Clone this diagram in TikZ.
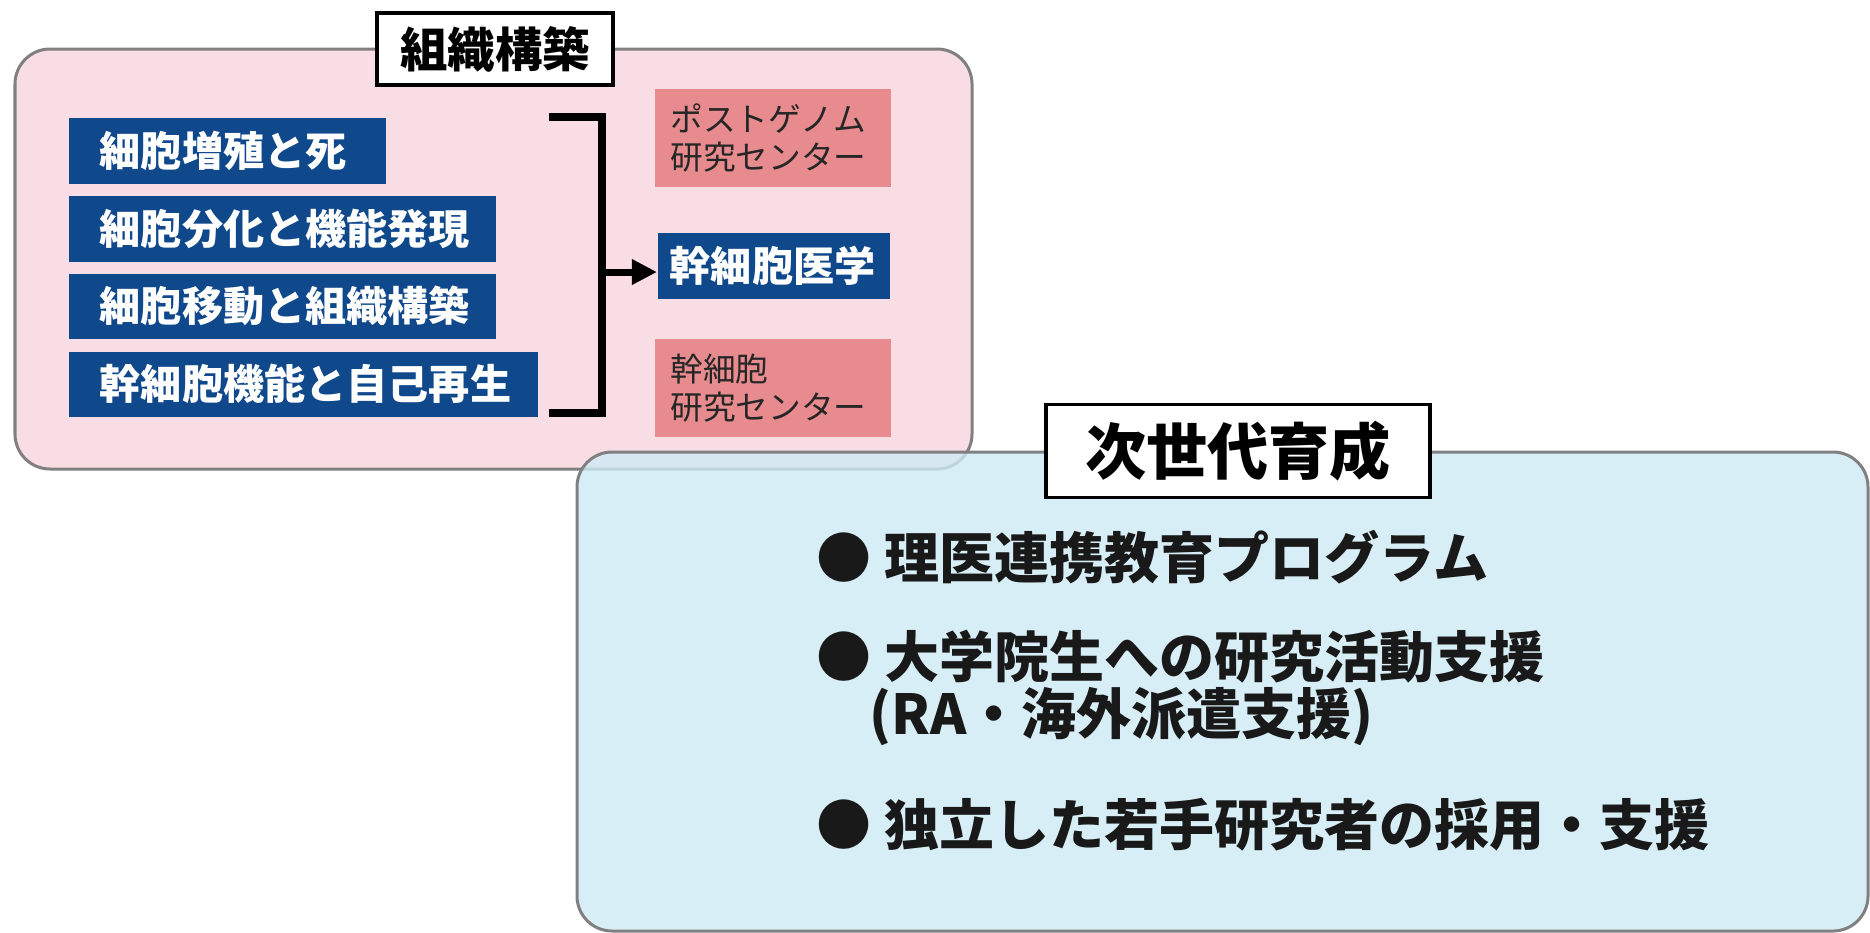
\documentclass[tikz,border=0pt]{standalone}
\usepackage{fontspec}
\setmainfont{Noto Sans CJK JP}
\usetikzlibrary{arrows.meta}

\definecolor{tissuepink}{RGB}{249,221,229}
\definecolor{nextblue}{RGB}{206,234,244}
\definecolor{cellblue}{RGB}{16,72,140}
\definecolor{centerpink}{RGB}{231,139,143}
\definecolor{panelgray}{RGB}{128,128,128}

\newcommand{\cellfont}{\fontsize{11.7pt}{13pt}\selectfont\bfseries}
\newcommand{\centerfont}{\fontsize{9.3pt}{10.7pt}\selectfont}
\newcommand{\headfontA}{\fontsize{13.5pt}{15pt}\selectfont\bfseries}
\newcommand{\headfontB}{\fontsize{17.4pt}{19pt}\selectfont\bfseries}
\newcommand{\jpitemfont}{\fontsize{15.65pt}{13.7pt}\selectfont\bfseries}

\tikzset{
	panel/.style={draw=panelgray, line width=0.03cm, rounded corners=0.35cm},
	headbox/.style={draw=black, fill=white, line width=0.035cm, inner sep=0},
	cellbox/.style={fill=cellblue, text=white, inner xsep=0.31cm, inner ysep=0, minimum height=0.65cm, align=left, anchor=west, font=\cellfont},
	centerbox/.style={fill=centerpink, text=black!85, inner xsep=0.15cm, inner ysep=0, minimum height=0.97cm, text width=2.05cm, align=left, font=\centerfont},
	item/.style={anchor=west, inner sep=0, align=left, text=black!90, font=\jpitemfont},
	bracket/.style={line width=0.08cm},
	feed/.style={line width=0.07cm, -{Triangle[length=0.25cm, width=0.24cm]}}
}

\begin{document}
\begin{tikzpicture}[x=0.01cm,y=-0.01cm]
	\useasboundingbox (0,0) rectangle (1870,932);
	\draw[panel, fill=tissuepink] (15,49) rectangle (972,469);
	\node[headbox, minimum width=2.36cm, minimum height=0.72cm, font=\headfontA] (tissuehead) at (495,49) {組織構築};
	\node[cellbox, text width=2.55cm] (prolif) at (68,151) {細胞増殖と死};
	\node[cellbox, text width=3.65cm] (differ) at (68,229) {細胞分化と機能発現};
	\node[cellbox, text width=3.65cm] (migrate) at (68,306) {細胞移動と組織構築};
	\node[cellbox, text width=4.07cm] (renew) at (68,384) {幹細胞機能と自己再生};
	\node[centerbox] (postgenome) at (773,138) {ポストゲノム\\研究センター};
	\node[cellbox, inner xsep=0.12cm, text width=2.08cm] (stemmed) at (657,266) {幹細胞医学};
	\node[centerbox] (stemcenter) at (773,388) {幹細胞\\研究センター};
	\coordinate (brtop) at (549,117);
	\coordinate (brbot) at (549,413);
	\coordinate (brmid) at (602,272);
	\draw[bracket] (brtop) -| (brmid) |- (brbot);
	\draw[feed] (brmid) -- (brmid -| stemmed.west);
	\draw[panel, fill=nextblue, fill opacity=0.8] (577,452) rectangle (1868,931);
	\node[headbox, minimum width=3.84cm, minimum height=0.93cm, font=\headfontB] (nexthead) at (1238,451) {次世代育成};
	\node[item] (program) at (816,557) {● 理医連携教育プログラム};
	\node[item] (gradsupport) at (816,688) {● 大学院生への研究活動支援\\\hspace{0.53cm}(RA・海外派遣支援)};
	\node[item] (youngpi) at (816,825) {● 独立した若手研究者の採用・支援};
\end{tikzpicture}
\end{document}
